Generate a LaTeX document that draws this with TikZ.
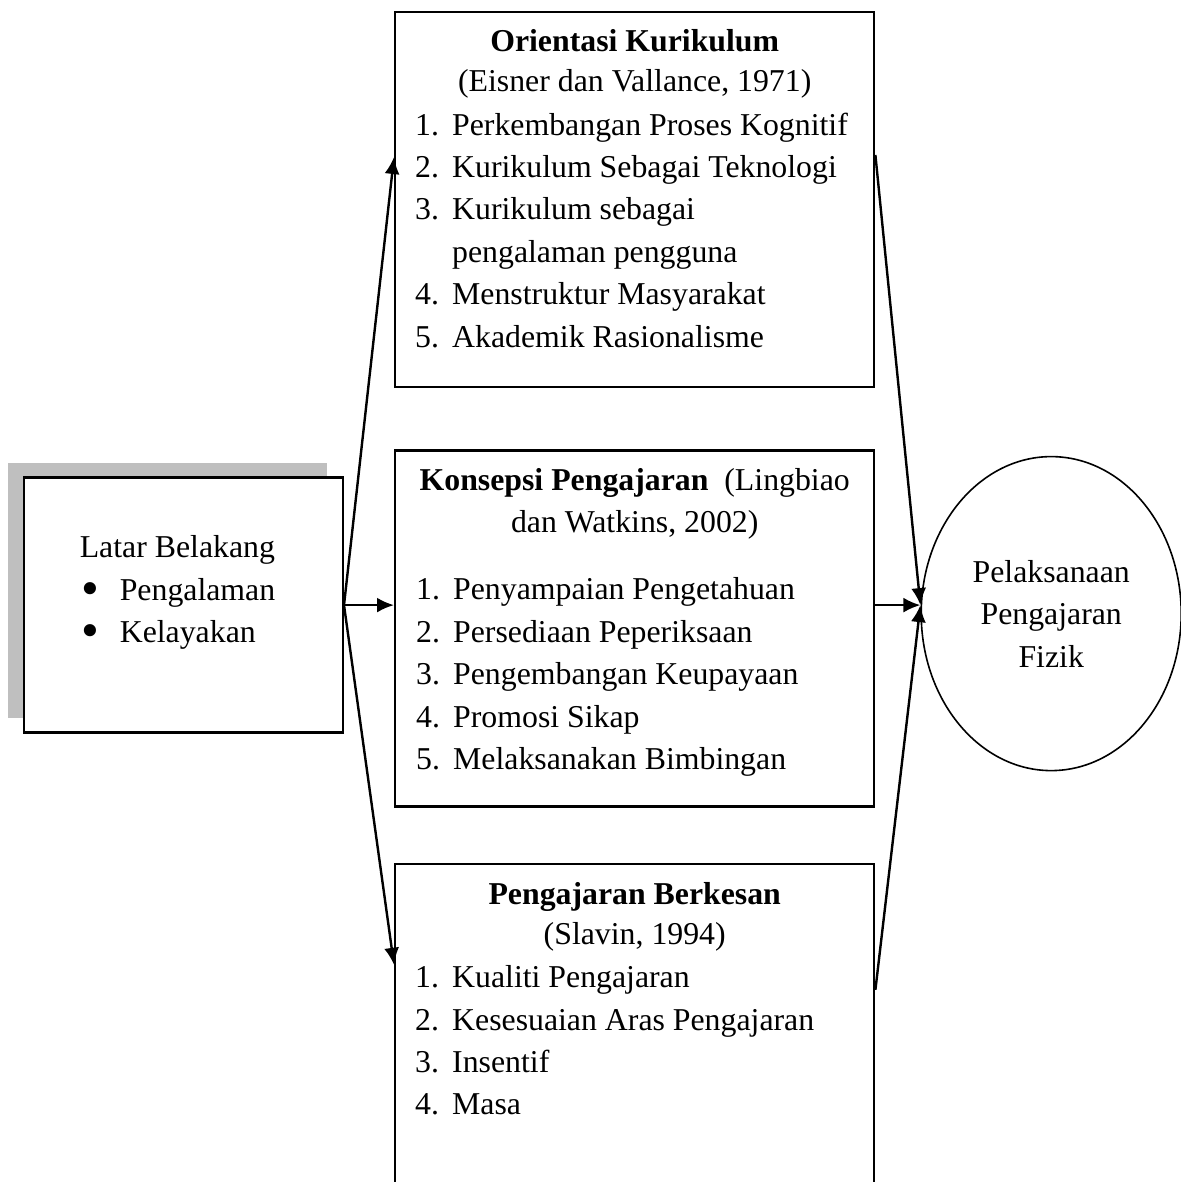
\documentclass[tikz,border=0pt]{standalone}
\usepackage{fontspec}
\setmainfont{Liberation Serif}
\usetikzlibrary{shapes.geometric,arrows.meta,positioning,calc,shadows}

\newcommand{\listnum}[1]{\makebox[37pt][l]{#1}}
\newcommand{\bulletitem}[1]{\makebox[40pt][l]{\hspace{2pt}\raisebox{-5pt}{\scalebox{1.6}{\textbullet}}}#1}

\begin{document}
\begin{tikzpicture}[
    x=1pt, y=-1pt,
    every node/.style={font=\fontsize{31.8pt}{42.4pt}\selectfont},
    box/.style={
        rectangle,
        draw,
        line width=2.4pt,
        minimum width=479pt,
        inner sep=0pt
    },
    shadedbox/.style={
        rectangle,
        draw,
        fill=white,
        line width=2.4pt,
        minimum width=319pt,
        minimum height=255pt,
        drop shadow={shadow xshift=-16pt, shadow yshift=15pt, fill=gray!50, opacity=1}
    },
    title/.style={inner sep=0pt, anchor=base, align=center},
    items/.style={inner sep=0pt, anchor=base west, align=left},
    line/.style={draw, -{Latex[length=17pt,width=15pt]}, line width=2.4pt}
]
\useasboundingbox (0,0) rectangle (1180,1182);

% Middle column of boxes
\node [box, minimum height=375pt, anchor=north west] (orient) at (394,11) {};
\node [box, minimum height=356pt, below=61pt of orient] (konsep) {};
\node [box, minimum height=337pt, below=55pt of konsep] (berkesan) {};

% Left box and the ellipse
\node [shadedbox, left=50pt of konsep, yshift=23.5pt] (latar) {};
\node [ellipse, draw, line width=1.6pt, minimum width=260pt, minimum height=314pt,
       align=center, right=45pt of konsep, yshift=15pt] (pelaks)
       {Pelaksanaan\\Pengajaran\\Fizik};

% Texts in the boxes (base = last line)
\node [items] (latartext) at ($(latar.north west)+(57,166)$)
    {Latar Belakang\\\bulletitem{Pengalaman}\\\bulletitem{Kelayakan}};

\node [title] (orienttitle) at ($(orient.north)+(0,81)$)
    {\textbf{Orientasi Kurikulum}\\[-2pt](Eisner dan Vallance, 1971)};
\node [items] (orientlist) at ($(orient.north west)+(21,336)$)
    {\listnum{1.}Perkembangan Proses Kognitif\\
     \listnum{2.}Kurikulum Sebagai Teknologi\\
     \listnum{3.}Kurikulum sebagai\\
     \hspace*{37pt}pengalaman pengguna\\
     \listnum{4.}Menstruktur Masyarakat\\
     \listnum{5.}Akademik Rasionalisme};

\node [title] (konseptitle) at ($(konsep.north)+(0,83)$)
    {\textbf{Konsepsi Pengajaran}\ \ (Lingbiao\\dan Watkins, 2002)};
\node [items] (konseplist) at ($(konsep.north west)+(22,320)$)
    {\listnum{1.}Penyampaian Pengetahuan\\
     \listnum{2.}Persediaan Peperiksaan\\
     \listnum{3.}Pengembangan Keupayaan\\
     \listnum{4.}Promosi Sikap\\
     \listnum{5.}Melaksanakan Bimbingan};

\node [title] (berkesantitle) at ($(berkesan.north)+(0,82)$)
    {\textbf{Pengajaran Berkesan}\\[-2pt](Slavin, 1994)};
\node [items] (berkesanlist) at ($(berkesan.north west)+(21,252)$)
    {\listnum{1.}Kualiti Pengajaran\\
     \listnum{2.}Kesesuaian Aras Pengajaran\\
     \listnum{3.}Insentif\\
     \listnum{4.}Masa};

% Connection points on the box sides
\coordinate (orientin) at ($(orient.north west)+(0,146)$);
\coordinate (orientout) at ($(orient.north east)+(0,144)$);
\coordinate (berkesanin) at ($(berkesan.north west)+(0,102)$);
\coordinate (berkesanout) at ($(berkesan.north east)+(0,127)$);

% Connections
\draw [line] (latar.east) -- (orientin);
\draw [line] (latar.east) -- (latar.east -| konsep.west);
\draw [line] (latar.east) -- (berkesanin);
\draw [line] (orientout) -- (latar.east -| pelaks.west);
\draw [line] (latar.east -| konsep.east) -- (latar.east -| pelaks.west);
\draw [line] (berkesanout) -- (latar.east -| pelaks.west);

\end{tikzpicture}
\end{document}
